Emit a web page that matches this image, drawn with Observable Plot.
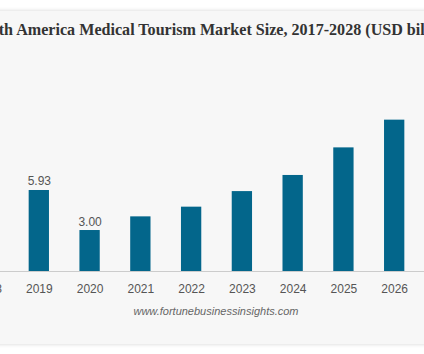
<!DOCTYPE html>
<html>
<head>
<meta charset="utf-8">
<script src="https://cdn.jsdelivr.net/npm/d3@7"></script>
<script src="https://cdn.jsdelivr.net/npm/@observablehq/plot@0.6"></script>
<style>
  html, body { margin: 0; padding: 0; background: #ffffff; width: 424px; height: 354px; overflow: hidden; }
  #panel { position: absolute; left: -20px; top: 11px; width: 480px; height: 333px; background: #f7f7f7; box-shadow: 0 0 4px rgba(0,0,0,0.18); }
  #title { position: absolute; left: -286px; width: 1000px; top: 21px; text-align: center; white-space: nowrap;
           font-family: "Liberation Serif", "Times New Roman", serif; font-weight: bold; font-size: 16.1px; color: #333; }
  #chart { position: absolute; left: -100px; top: 60px; width: 640px; }
  #chart svg { max-width: none !important; width: 640px; }
  #source { position: absolute; left: -284px; width: 1000px; top: 305px; text-align: center; white-space: nowrap;
            font-family: "Liberation Sans", Arial, sans-serif; font-style: italic; font-size: 11px; color: #666; }
</style>
</head>
<body>
<div id="panel"></div>
<div id="title"></div>
<div id="chart"></div>
<div id="source"></div>
<script>
const titleText = "North America Medical Tourism Market Size, 2017-2028 (USD billion)";
const sourceText = "www.fortunebusinessinsights.com";
const allYears = ["2017","2018","2019","2020","2021","2022","2023","2024","2025","2026","2027","2028"];
const years = ["2019","2020","2021","2022","2023","2024","2025","2026"];
const values = [5.93, 3.00, 4.00, 4.71, 5.85, 7.03, 9.05, 11.08];
const labelYears = ["2019","2020"];
const labelValues = [5.93, 3.00];

document.getElementById("title").textContent = titleText;
document.getElementById("source").textContent = sourceText;

const bars = years.map((y, i) => ({year: y, value: values[i]}));
const labels = labelYears.map((y, i) => ({year: y, value: labelValues[i], text: labelValues[i].toFixed(2)}));

const chart = Plot.plot({
  width: 640,
  height: 250,
  marginLeft: 0, marginRight: 0, marginTop: 0, marginBottom: 39,
  style: {background: "transparent", fontFamily: "Liberation Sans, Arial, sans-serif", maxWidth: "none"},
  x: {domain: allYears, range: [11.9, 621.1], paddingInner: 0.6, paddingOuter: 0.3, round: false},
  y: {domain: [0, 14], range: [211, 211 - 14 * 13.66]},
  marks: [
    Plot.barY(bars, {x: "year", y: "value", fill: "#03668b"}),
    Plot.ruleY([0], {stroke: "#cccccc", strokeWidth: 1}),
    Plot.text(labels, {x: "year", y: "value", text: "text", dy: -5, lineAnchor: "bottom", fill: "#555", fontSize: 12}),
    Plot.axisX({tickSize: 0, tickPadding: 13, fontSize: 12, color: "#555", label: null})
  ]
});
document.getElementById("chart").appendChild(chart);
</script>
</body>
</html>
